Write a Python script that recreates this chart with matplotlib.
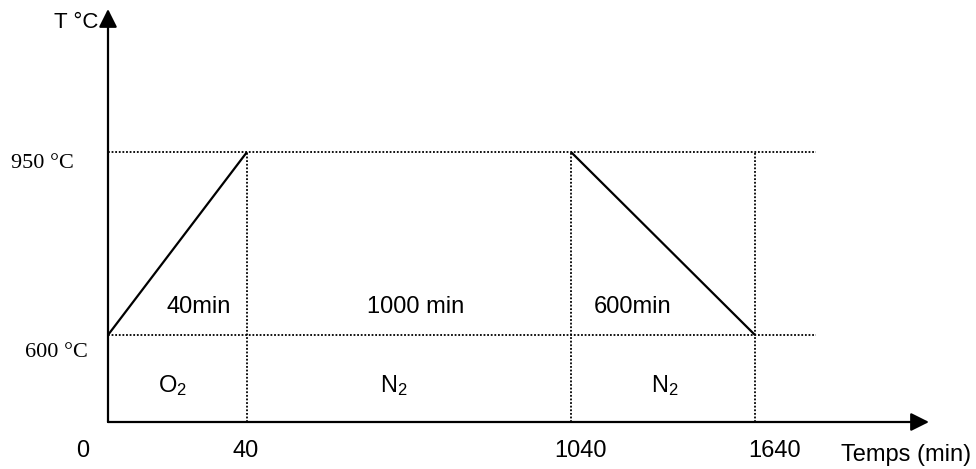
import numpy as np
import matplotlib
matplotlib.use('Agg')
import matplotlib.pyplot as plt

plt.rcParams['font.family'] = ['Liberation Sans', 'DejaVu Sans']
plt.rcParams['mathtext.default'] = 'regular'

# Schedule (time in min, temperature in degC)
profile_t = [0, 40, 1040, 1640]
profile_T = [600, 950, 950, 600]
levels_T = [600, 950]
level_labels = ['600 °C', '950 °C']
tick_labels = ['0', '40', '1040', '1640']
segment_labels = ['40min', '1000 min', '600min']
gas_labels = ['O$_2$', 'N$_2$', 'N$_2$']

W, H = 976, 469

# schematic (non linear) time axis: each breakpoint sits at a fixed pixel
brk_t = np.array(profile_t, dtype=float)
brk_px = np.array([108.0, 247.0, 571.0, 755.0])
sl_left = (brk_px[1] - brk_px[0]) / (brk_t[1] - brk_t[0])
sl_right = (brk_px[-1] - brk_px[-2]) / (brk_t[-1] - brk_t[-2])


def fwd(t):
    t = np.asarray(t, dtype=float)
    out = np.interp(t, brk_t, brk_px)
    out = np.where(t < brk_t[0], brk_px[0] + (t - brk_t[0]) * sl_left, out)
    out = np.where(t > brk_t[-1], brk_px[-1] + (t - brk_t[-1]) * sl_right, out)
    return out


def inv(p):
    p = np.asarray(p, dtype=float)
    out = np.interp(p, brk_px, brk_t)
    out = np.where(p < brk_px[0], brk_t[0] + (p - brk_px[0]) / sl_left, out)
    out = np.where(p > brk_px[-1], brk_t[-1] + (p - brk_px[-1]) / sl_right, out)
    return out


def px(x, y):
    # pixel (from top-left) -> axes fraction
    return (x / W, 1 - y / H)


fig = plt.figure(figsize=(W / 100, H / 100), dpi=100)
ax = fig.add_axes([0, 0, 1, 1])
ax.set_xscale('function', functions=(fwd, inv))
ax.set_xlim(float(inv(0)), float(inv(W)))
# 950 at y=152 px, 600 at y=335 px
k = (950 - 600) / (335 - 152)
ax.set_ylim(950 - (H - 152) * k, 950 + 152 * k)
ax.axis('off')

base_frac = 1 - 422 / H
T_base = ax.get_ylim()[0] + base_frac * (ax.get_ylim()[1] - ax.get_ylim()[0])

dot = (0, (1, 1))
for T in levels_T:
    ax.axhline(T, xmin=108 / W, xmax=816 / W, color='black', lw=1.3, ls=dot)
ax.vlines(profile_t[1:], T_base, 950, color='black', lw=1.3, ls=dot)

# heating and cooling ramps
ax.plot(profile_t[0:2], profile_T[0:2], color='black', lw=1.6, solid_capstyle='butt')
ax.plot(profile_t[2:4], profile_T[2:4], color='black', lw=1.6, solid_capstyle='butt')

# axes with arrows
arr = dict(arrowstyle='-|>,head_length=1.1,head_width=0.55', color='black',
           lw=1.6, shrinkA=0, shrinkB=0, mutation_scale=10)
ax.annotate('', xy=(0, 1 - 9 / H), xytext=(0, base_frac),
            xycoords=('data', 'axes fraction'), textcoords=('data', 'axes fraction'),
            arrowprops=arr)
ax.annotate('', xy=(929 / W, base_frac), xytext=(0, base_frac),
            xycoords='axes fraction', textcoords=('data', 'axes fraction'),
            arrowprops=arr)

fs = 17
# time tick labels
offs = [-25, -1, 9, 20]
for t, lab, o in zip(profile_t, tick_labels, offs):
    ax.annotate(lab, xy=(t, 1 - 457 / H), xycoords=('data', 'axes fraction'),
                xytext=(o, 0), textcoords='offset pixels',
                ha='center', va='baseline', fontsize=fs)
ax.text(*px(906, 461), 'Temps (min)', transform=ax.transAxes,
        ha='center', va='baseline', fontsize=fs)
ax.text(*px(98, 28), 'T °C', transform=ax.transAxes,
        ha='right', va='baseline', fontsize=16)

# temperature labels (serif)
for T, lab, xc, off in zip(levels_T, level_labels, [56, 42], [-22, -16]):
    ax.annotate(lab, xy=(xc / W, T), xycoords=('axes fraction', 'data'),
                xytext=(0, off), textcoords='offset pixels',
                ha='center', va='baseline', fontsize=16, family='Liberation Serif')

# durations and atmospheres
for lab, xc in zip(segment_labels, [199, 416, 633]):
    ax.text(*px(xc, 313), lab, transform=ax.transAxes,
            ha='center', va='baseline', fontsize=fs)
for lab, xc in zip(gas_labels, [172, 394, 665]):
    ax.text(*px(xc, 392), lab, transform=ax.transAxes,
            ha='center', va='baseline', fontsize=fs)

fig.savefig('out.png', dpi=100, facecolor='white')
